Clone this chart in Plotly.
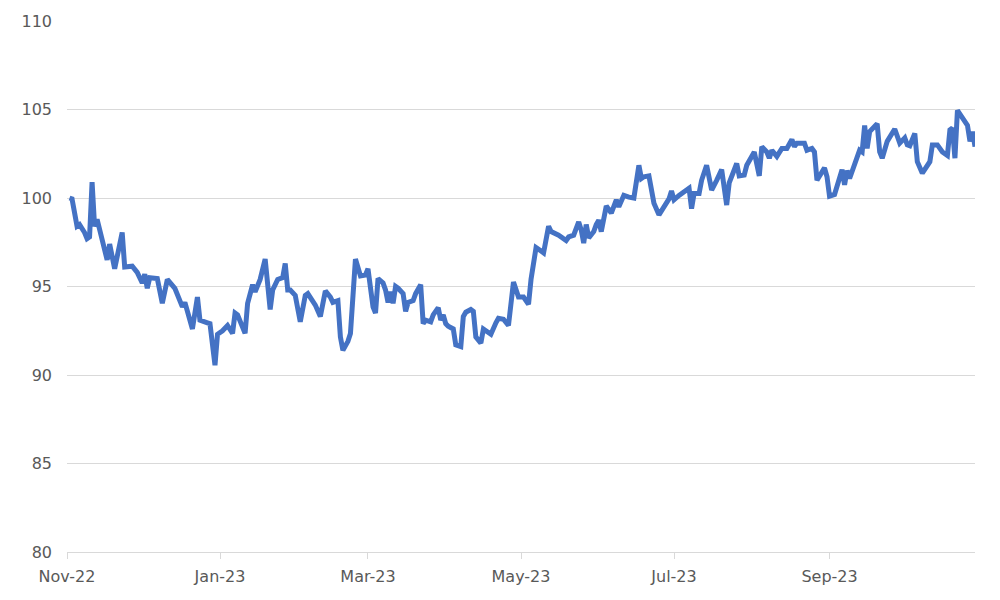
import plotly.graph_objects as go

dates = [
    "2022-11-02", "2022-11-03", "2022-11-05", "2022-11-06", "2022-11-08", "2022-11-09", "2022-11-10",
    "2022-11-11", "2022-11-12", "2022-11-13", "2022-11-17", "2022-11-18", "2022-11-20", "2022-11-23",
    "2022-11-24", "2022-11-26", "2022-11-27", "2022-11-29", "2022-12-01", "2022-12-02", "2022-12-03",
    "2022-12-04", "2022-12-07", "2022-12-09", "2022-12-11", "2022-12-14", "2022-12-16", "2022-12-17",
    "2022-12-18", "2022-12-21", "2022-12-23", "2022-12-24", "2022-12-27", "2022-12-28", "2022-12-30",
    "2022-12-31", "2023-01-02", "2023-01-04", "2023-01-06", "2023-01-07", "2023-01-08", "2023-01-11",
    "2023-01-12", "2023-01-14", "2023-01-15", "2023-01-17", "2023-01-19", "2023-01-21", "2023-01-22",
    "2023-01-24", "2023-01-26", "2023-01-27", "2023-01-28", "2023-01-29", "2023-01-31", "2023-02-02",
    "2023-02-04", "2023-02-05", "2023-02-08", "2023-02-10", "2023-02-12", "2023-02-14", "2023-02-15",
    "2023-02-17", "2023-02-18", "2023-02-19", "2023-02-21", "2023-02-22", "2023-02-24", "2023-02-26",
    "2023-02-28", "2023-03-01", "2023-03-03", "2023-03-04", "2023-03-05", "2023-03-07", "2023-03-08",
    "2023-03-09", "2023-03-10", "2023-03-11", "2023-03-12", "2023-03-13", "2023-03-15", "2023-03-16",
    "2023-03-17", "2023-03-19", "2023-03-20", "2023-03-22", "2023-03-23", "2023-03-24", "2023-03-26",
    "2023-03-27", "2023-03-29", "2023-03-30", "2023-03-31", "2023-04-01", "2023-04-02", "2023-04-04",
    "2023-04-05", "2023-04-07", "2023-04-08", "2023-04-09", "2023-04-11", "2023-04-12", "2023-04-13",
    "2023-04-15", "2023-04-16", "2023-04-17", "2023-04-19", "2023-04-21", "2023-04-22", "2023-04-24",
    "2023-04-26", "2023-04-28", "2023-04-30", "2023-05-02", "2023-05-04", "2023-05-05", "2023-05-07",
    "2023-05-08", "2023-05-10", "2023-05-12", "2023-05-13", "2023-05-16", "2023-05-19", "2023-05-20",
    "2023-05-22", "2023-05-24", "2023-05-25", "2023-05-26", "2023-05-27", "2023-05-28", "2023-05-30",
    "2023-05-31", "2023-06-01", "2023-06-02", "2023-06-04", "2023-06-06", "2023-06-08", "2023-06-09",
    "2023-06-11", "2023-06-13", "2023-06-15", "2023-06-17", "2023-06-18", "2023-06-19", "2023-06-21",
    "2023-06-23", "2023-06-25", "2023-06-27", "2023-06-29", "2023-06-30", "2023-07-01", "2023-07-03",
    "2023-07-05", "2023-07-07", "2023-07-08", "2023-07-09", "2023-07-11", "2023-07-12", "2023-07-14",
    "2023-07-16", "2023-07-18", "2023-07-20", "2023-07-22", "2023-07-23", "2023-07-26", "2023-07-27",
    "2023-07-29", "2023-07-30", "2023-08-02", "2023-08-03", "2023-08-04", "2023-08-05", "2023-08-07",
    "2023-08-08", "2023-08-09", "2023-08-11", "2023-08-13", "2023-08-15", "2023-08-17", "2023-08-18",
    "2023-08-19", "2023-08-22", "2023-08-23", "2023-08-25", "2023-08-26", "2023-08-27", "2023-08-29",
    "2023-08-30", "2023-08-31", "2023-09-01", "2023-09-03", "2023-09-06", "2023-09-07", "2023-09-08",
    "2023-09-09", "2023-09-11", "2023-09-13", "2023-09-14", "2023-09-15", "2023-09-16", "2023-09-17",
    "2023-09-20", "2023-09-21", "2023-09-22", "2023-09-24", "2023-09-27", "2023-09-28", "2023-09-29",
    "2023-10-01", "2023-10-02", "2023-10-03", "2023-10-05", "2023-10-06", "2023-10-08", "2023-10-11",
    "2023-10-12", "2023-10-14", "2023-10-16", "2023-10-18", "2023-10-19", "2023-10-20", "2023-10-21",
    "2023-10-22", "2023-10-24", "2023-10-26", "2023-10-27", "2023-10-28", "2023-10-29",
]

values = [
    100.0, 99.95, 98.4, 98.5, 98.05, 97.7, 97.8,
    100.9, 98.4, 98.8, 96.5, 97.4, 96.0, 98.05,
    96.1, 96.1, 96.15, 95.8, 95.2, 95.7, 94.9,
    95.5, 95.45, 94.05, 95.4, 94.9, 94.1, 93.85,
    94.1, 92.6, 94.4, 93.1, 92.95, 92.9, 90.55,
    92.3, 92.5, 92.8, 92.35, 93.5, 93.4, 92.35,
    94.05, 95.1, 94.7, 95.4, 96.55, 93.7, 94.8,
    95.4, 95.5, 96.3, 94.8, 94.8, 94.5, 93.0,
    94.5, 94.6, 93.95, 93.3, 94.75, 94.4, 94.1,
    94.2, 92.15, 91.4, 91.9, 92.35, 96.55, 95.6,
    95.65, 96.0, 93.85, 93.5, 95.45, 95.2, 94.8,
    94.1, 94.7, 94.05, 95.0, 94.9, 94.6, 93.6,
    94.1, 94.2, 94.6, 95.1, 92.9, 93.1, 93.0,
    93.4, 93.8, 93.1, 93.4, 92.9, 92.75, 92.6,
    91.7, 91.6, 93.3, 93.55, 93.7, 93.6, 92.15,
    91.8, 92.6, 92.5, 92.3, 92.95, 93.2, 93.15,
    92.8, 95.25, 94.4, 94.4, 94.0, 95.4, 97.2,
    97.1, 96.9, 98.4, 98.1, 97.9, 97.6, 97.8,
    97.9, 98.65, 98.2, 97.45, 98.5, 97.75, 98.1,
    98.5, 98.75, 98.1, 99.55, 99.15, 99.9, 99.5,
    100.15, 100.05, 100.0, 101.85, 101.1, 101.2, 101.25,
    99.7, 99.05, 99.5, 99.95, 100.4, 99.9, 100.15,
    100.35, 100.55, 99.4, 100.25, 100.25, 101.0, 101.85,
    100.45, 101.0, 101.6, 99.6, 100.85, 101.95, 101.25,
    101.3, 101.85, 102.6, 101.95, 101.25, 102.9, 102.6,
    102.25, 102.7, 102.35, 102.8, 102.8, 103.3, 102.9,
    103.1, 103.1, 102.7, 102.8, 102.6, 101.0, 101.5,
    101.7, 101.2, 100.1, 100.2, 101.6, 100.75, 101.55,
    101.1, 101.85, 102.7, 102.6, 104.1, 102.8, 103.75,
    104.2, 102.6, 102.25, 103.2, 103.9, 103.4, 103.1,
    103.4, 103.0, 102.95, 103.65, 102.05, 101.4, 102.05,
    103.0, 103.0, 102.6, 102.4, 103.85, 103.95, 102.25,
    104.95, 104.5, 104.1, 103.2, 103.75, 102.9,
]

y_ticks = [80, 85, 90, 95, 100, 105, 110]
x_range = ["2022-11-01", "2023-10-29"]

fig = go.Figure()
fig.add_trace(go.Scatter(
    x=dates, y=values, mode="lines",
    line=dict(color="#4472C4", width=5, shape="linear"),
    showlegend=False, hoverinfo="skip",
))

font = dict(family="DejaVu Sans", size=16, color="#595959")

fig.update_layout(
    width=1000, height=600,
    margin=dict(l=59, r=33, t=13, b=56, autoexpand=False),
    paper_bgcolor="white", plot_bgcolor="white",
    font=font,
    xaxis=dict(
        type="date", range=x_range,
        tick0="2022-11-01", dtick="M2", tickformat="%b-%y",
        showgrid=False, showline=True, linecolor="#d9d9d9", linewidth=1,
        ticks="outside", ticklen=6, tickcolor="#d9d9d9", tickwidth=1,
        ticklabelstandoff=4, zeroline=False, tickfont=font,
    ),
    yaxis=dict(
        range=[80, 110], tickvals=y_ticks,
        showgrid=True, gridcolor="#d9d9d9", gridwidth=1,
        showline=False, zeroline=False, ticks="",
        ticklabelstandoff=14, tickfont=font,
    ),
)

fig.write_html("out.html")
